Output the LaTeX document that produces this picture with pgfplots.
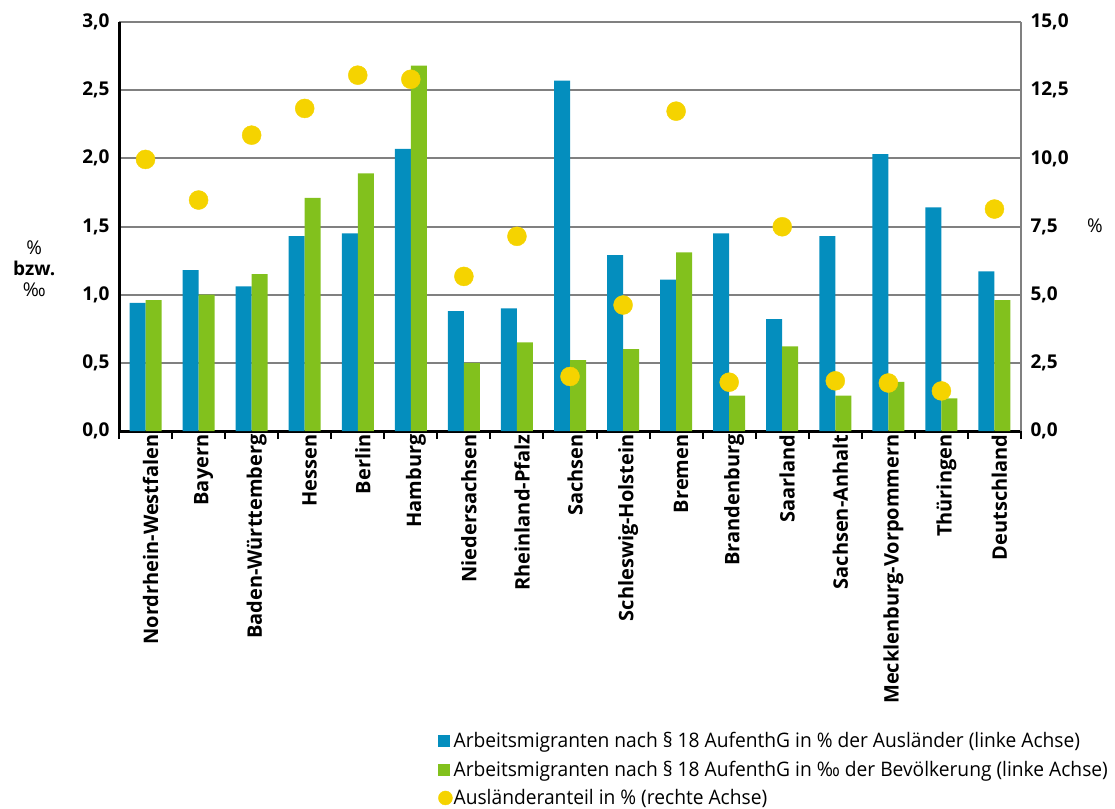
\documentclass[border=0pt]{standalone}
\usepackage{pgfplots}
\pgfplotsset{compat=1.18}
\usepackage{pgfplotstable}
\usepackage{fontspec}
\setmainfont{Open Sans}
\newfontfamily\legfont[FakeStretch=0.96]{Open Sans}
\definecolor{c1}{RGB}{4,142,190}
\definecolor{c2}{RGB}{130,193,29}
\definecolor{c3}{RGB}{245,211,0}
\definecolor{gridgray}{RGB}{128,128,128}
\pgfplotstableread{
x blue green dot
0 0.94 0.96 9.96
1 1.18 1.00 8.47
2 1.06 1.15 10.85
3 1.43 1.71 11.83
4 1.45 1.89 13.05
5 2.07 2.68 12.90
6 0.88 0.50 5.67
7 0.90 0.65 7.14
8 2.57 0.52 2.00
9 1.29 0.60 4.62
10 1.11 1.31 11.73
11 1.45 0.26 1.79
12 0.82 0.62 7.49
13 1.43 0.26 1.84
14 2.03 0.36 1.76
15 1.64 0.24 1.47
16 1.17 0.96 8.14
}\data
\begin{document}
\begin{tikzpicture}
\begin{axis}[
  at={(0,0)}, anchor=south west,
  width=902pt, height=409pt, scale only axis,
  xmin=-0.5, xmax=16.5, ymin=0, ymax=3,
  axis x line*=bottom, axis y line*=left,
  axis line style={-, line width=3pt, black},
  ymajorgrids, grid style={gridgray, line width=2pt},
  major tick length=0pt,
  xtick={0,...,16},
  xticklabels={Nordrhein-Westfalen,Bayern,Baden-Württemberg,Hessen,Berlin,Hamburg,Niedersachsen,Rheinland-Pfalz,Sachsen,Schleswig-Holstein,Bremen,Brandenburg,Saarland,Sachsen-Anhalt,Mecklenburg-Vorpommern,Thüringen,Deutschland},
  xticklabel style={rotate=90, anchor=east, font=\bfseries\fontsize{20}{24}\selectfont, yshift=-5pt},
  extra x ticks={-0.5,0.5,...,16.5},
  extra x tick labels={},
  extra x tick style={major tick length=8pt, tick align=outside, tick style={black, line width=2pt}, grid=none},
  ytick={0,0.5,...,3},
  yticklabel style={font=\bfseries\fontsize{19}{22}\selectfont, xshift=-6pt},
  /pgf/number format/.cd, fixed, fixed zerofill, precision=1, use comma, assume math mode=true,
  /pgfplots/.cd,
  ylabel={\%\\\textbf{bzw.}\\‰},
  ylabel style={rotate=-90, at={(rel axis cs:-0.094,0.396)}, anchor=center, align=center, font=\fontsize{19}{21}\selectfont},
]
\addplot[ybar, bar width=16pt, bar shift=-8pt, fill=c1, draw=none] table[x=x,y=blue]{\data};
\addplot[ybar, bar width=16pt, bar shift=8pt, fill=c2, draw=none] table[x=x,y=green]{\data};
\end{axis}
\begin{axis}[
  at={(0,0)}, anchor=south west,
  width=902pt, height=409pt, scale only axis,
  xmin=-0.5, xmax=16.5, ymin=0, ymax=15,
  axis x line=none, axis y line*=right,
  axis line style={-, line width=2pt, gridgray},
  major tick length=0pt,
  ytick={0,2.5,...,15},
  yticklabel style={font=\bfseries\fontsize{19}{22}\selectfont, xshift=6pt},
  /pgf/number format/.cd, fixed, fixed zerofill, precision=1, use comma, assume math mode=true,
  /pgfplots/.cd,
  ylabel={\%},
  ylabel style={rotate=-90, at={(rel axis cs:1.082,0.501)}, anchor=center, font=\fontsize{19}{21}\selectfont},
  legend style={at={(0.3537,-0.733)}, anchor=north west, draw=none, fill=none, inner sep=0pt,
    row sep=10pt, font=\legfont\fontsize{20}{22}\selectfont, nodes={inner sep=1pt}},
  legend cell align=left,
]
\addlegendimage{legend image code/.code={\fill[c1] (0pt,-5.5pt) rectangle (11pt,5.5pt);}}
\addlegendentry{Arbeitsmigranten nach § 18 AufenthG in \% der Ausländer (linke Achse)}
\addlegendimage{legend image code/.code={\fill[c2] (0pt,-5.5pt) rectangle (11pt,5.5pt);}}
\addlegendentry{Arbeitsmigranten nach § 18 AufenthG in ‰ der Bevölkerung (linke Achse)}
\addplot[only marks, mark=*, mark size=9.5pt, c3, mark options={fill=c3, draw=none},
  legend image code/.code={\fill[c3] (7pt,0pt) circle (7pt);}] table[x=x,y=dot]{\data};
\addlegendentry{Ausländeranteil in \% (rechte Achse)}
\end{axis}
\pgfresetboundingbox
\path (-119pt,-377pt) rectangle (996pt,431pt);
\end{tikzpicture}
\end{document}
